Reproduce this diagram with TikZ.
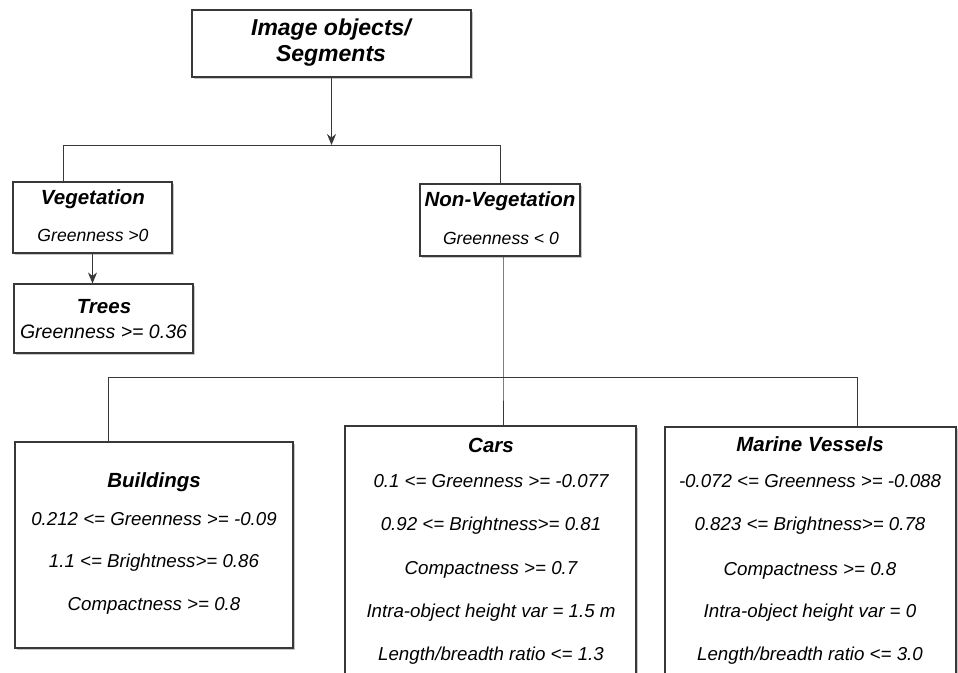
\documentclass[tikz,border=0pt]{standalone}
\usepackage{fontspec}
\setmainfont{Liberation Sans}
\usetikzlibrary{arrows.meta,shadows}
\definecolor{linec}{HTML}{383838}
\begin{document}
\begin{tikzpicture}[x=1pt,y=-1pt,
  box/.style={draw=linec, line width=1.1pt, fill=white, inner sep=0pt,
    drop shadow={shadow xshift=1.8pt,shadow yshift=-1.8pt,fill=black,opacity=0.22}},
  conn/.style={draw=linec, line width=1pt},
  arr/.style={conn,-{Stealth[length=11pt,width=9pt]}},
  bigttl/.style={font=\fontsize{23}{26}\selectfont\bfseries\itshape, inner sep=0pt},
  ttl/.style={font=\fontsize{20.5}{24}\selectfont\bfseries\itshape, inner sep=0pt},
  smalltxt/.style={font=\fontsize{17.6}{20}\selectfont\itshape, inner sep=0pt},
  midtxt/.style={font=\fontsize{19.5}{22}\selectfont\itshape, inner sep=0pt},
  txt/.style={font=\fontsize{18.7}{22}\selectfont\itshape, inner sep=0pt}]
\useasboundingbox (0,0) rectangle (958,672);
\clip (0,0) rectangle (958,672);

% boxes
\node[box, minimum width=279pt, minimum height=67pt] (top) at (331.5,43.5) {};
\node[box, minimum width=159pt, minimum height=71pt] (veg) at (92.5,217.5) {};
\node[box, minimum width=160pt, minimum height=72pt] (nonveg) at (500,220) {};
\node[box, minimum width=179pt, minimum height=69pt] (trees) at (103.5,318.5) {};
\node[box, minimum width=278pt, minimum height=206pt] (bld) at (154,545) {};
\node[box, minimum width=291pt, minimum height=274pt] (cars) at (490.5,563) {};
\node[box, minimum width=291pt, minimum height=274pt] (marine) at (810.5,564) {};

% junctions
\coordinate (j1) at (331.5,145);
\coordinate (jl) at (63,145);
\coordinate (jr) at (500,145);
\coordinate (j2) at (503,377);
\coordinate (jbl) at (108,377);
\coordinate (jbr) at (857,377);

% connectors
\draw[arr] (top.south) -- (j1);
\draw[conn] (veg.north -| jl) -- (jl) -- (jr) -- (nonveg.north);
\draw[arr] (veg.south) -- (veg.south |- trees.north);
\draw[conn] (nonveg.south -| j2) -- (j2) -- (j2 |- cars.north);
\draw[conn] (bld.north -| jbl) -- (jbl) -- (jbr) -- (marine.north -| jbr);

% texts
\node[bigttl] (topa) at (331,30) {Image objects/};
\node[bigttl] (topb) at (331,56) {Segments};

\node[ttl] (vega) at (93,199) {Vegetation};
\node[smalltxt] (vegb) at (93,235) {Greenness >0};

\node[ttl] (nva) at (500,201) {Non-Vegetation};
\node[smalltxt] (nvb) at (501,238) {Greenness < 0};

\node[ttl] (tra) at (104,307) {Trees};
\node[midtxt] (trb) at (103.5,332) {Greenness >= 0.36};

\node[ttl] (bla) at (154,482) {Buildings};
\node[txt] (blb) at (154,519) {0.212 <= Greenness >= -0.09};
\node[txt] (blc) at (154,563) {1.1 <= Brightness>= 0.86};
\node[txt] (bld2) at (154,606) {Compactness >= 0.8};

\node[ttl] (caa) at (491,445) {Cars};
\node[txt] (cab) at (491,481) {0.1 <= Greenness >= -0.077};
\node[txt] (cac) at (491,526) {0.92 <= Brightness>= 0.81};
\node[txt] (cad) at (491,570) {Compactness >= 0.7};
\node[txt] (cae) at (491,613) {Intra-object height var = 1.5 m};
\node[txt] (caf) at (491,656) {Length/breadth ratio <= 1.3};

\node[ttl] (maa) at (810,444) {Marine Vessels};
\node[txt] (mab) at (810,481) {-0.072 <= Greenness >= -0.088};
\node[txt] (mac) at (810,526) {0.823 <= Brightness>= 0.78};
\node[txt] (mad) at (810,571) {Compactness >= 0.8};
\node[txt] (mae) at (810,613) {Intra-object height var = 0};
\node[txt] (maf) at (810,656) {Length/breadth ratio <= 3.0};
\end{tikzpicture}
\end{document}
